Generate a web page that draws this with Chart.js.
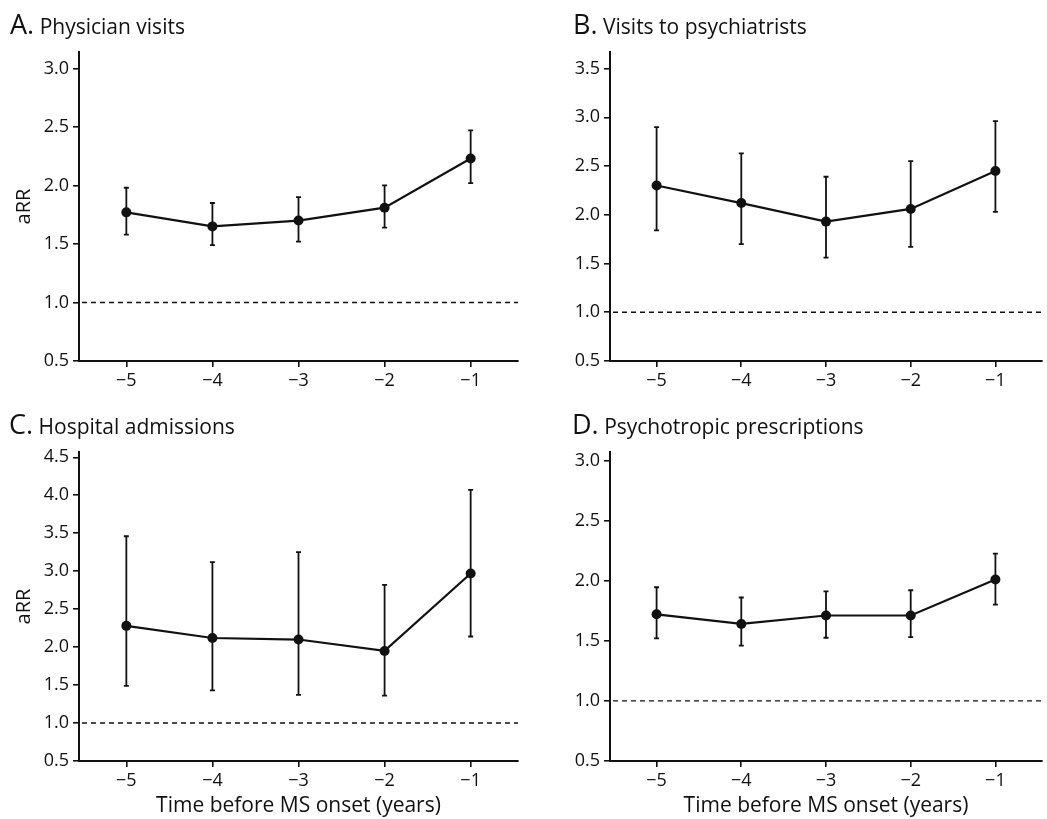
<!DOCTYPE html>
<html>
<head>
<meta charset="utf-8">
<script src="https://cdn.jsdelivr.net/npm/chart.js@4.4.1/dist/chart.umd.min.js"></script>
<style>
  body { margin: 0; background: #fff; font-family: 'Open Sans', sans-serif; }
  #wrap { position: relative; width: 1047px; height: 819px; overflow: hidden; }
  .panel { position: absolute; }
  .title { position: absolute; font-size: 21px; line-height: 30px; color: #111; white-space: nowrap; }
  .title b { font-weight: normal; font-size: 27px; }
</style>
</head>
<body>
<div id="wrap">
  <div class="panel" style="left:0;top:0;width:523px;height:400px"><canvas id="chartA"></canvas></div>
  <div class="panel" style="left:523px;top:0;width:524px;height:400px"><canvas id="chartB"></canvas></div>
  <div class="panel" style="left:0;top:400px;width:523px;height:419px"><canvas id="chartC"></canvas></div>
  <div class="panel" style="left:523px;top:400px;width:524px;height:419px"><canvas id="chartD"></canvas></div>
  <div class="title" style="left:10px;top:9px"><b>A.</b> Physician visits</div>
  <div class="title" style="left:573px;top:9px"><b>B.</b> Visits to psychiatrists</div>
  <div class="title" style="left:9px;top:409px"><b>C.</b> Hospital admissions</div>
  <div class="title" style="left:572px;top:409px"><b>D.</b> Psychotropic prescriptions</div>
</div>
<script>
'use strict';
// years before onset
const years = [-5, -4, -3, -2, -1];
const xTicks = [-5, -4, -3, -2, -1];

// A. Physician visits
const physicianRR = [1.77, 1.65, 1.70, 1.81, 2.23];
const physicianLo = [1.58, 1.49, 1.52, 1.64, 2.02];
const physicianHi = [1.98, 1.85, 1.90, 2.00, 2.47];

// B. Visits to psychiatrists
const psychRR = [2.30, 2.12, 1.93, 2.06, 2.45];
const psychLo = [1.84, 1.70, 1.56, 1.67, 2.03];
const psychHi = [2.90, 2.63, 2.39, 2.55, 2.96];

// C. Hospital admissions
const hospRR = [2.28, 2.12, 2.10, 1.95, 2.97];
const hospLo = [1.49, 1.43, 1.37, 1.36, 2.14];
const hospHi = [3.46, 3.12, 3.25, 2.82, 4.07];

// D. Psychotropic prescriptions
const drugRR = [1.72, 1.64, 1.71, 1.71, 2.01];
const drugLo = [1.52, 1.46, 1.525, 1.53, 1.80];
const drugHi = [1.945, 1.86, 1.91, 1.92, 2.225];

const ticksA = [0.5, 1.0, 1.5, 2.0, 2.5, 3.0];
const ticksB = [0.5, 1.0, 1.5, 2.0, 2.5, 3.0, 3.5];
const ticksC = [0.5, 1.0, 1.5, 2.0, 2.5, 3.0, 3.5, 4.0, 4.5];
const ticksD = [0.5, 1.0, 1.5, 2.0, 2.5, 3.0];
const refLine = 1.0;

const ink = '#111';

const errorBars = {
  id: 'errorBars',
  beforeDatasetsDraw(chart, args, opts) {
    const ctx = chart.ctx;
    const x = chart.scales.x;
    const y = chart.scales.y;
    const area = chart.chartArea;
    ctx.save();
    // reference line
    ctx.strokeStyle = ink;
    ctx.lineWidth = 1.4;
    ctx.setLineDash([5, 4]);
    const yr = y.getPixelForValue(refLine);
    ctx.beginPath();
    ctx.moveTo(area.left + 3, yr);
    ctx.lineTo(area.right, yr);
    ctx.stroke();
    ctx.setLineDash([]);
    // whiskers
    ctx.lineWidth = 1.8;
    for (let i = 0; i < opts.lo.length; i++) {
      const px = x.getPixelForValue(years[i]);
      const top = y.getPixelForValue(opts.hi[i]);
      const bot = y.getPixelForValue(opts.lo[i]);
      ctx.beginPath();
      ctx.moveTo(px, top);
      ctx.lineTo(px, bot);
      ctx.moveTo(px - 2.5, top);
      ctx.lineTo(px + 2.5, top);
      ctx.moveTo(px - 2.5, bot);
      ctx.lineTo(px + 2.5, bot);
      ctx.stroke();
    }
    ctx.restore();
  }
};

function makeChart(id, rr, lo, hi, yTicks, yMax, opt) {
  const ctx = document.getElementById(id).getContext('2d');
  return new Chart(ctx, {
    type: 'line',
    data: {
      datasets: [{
        data: years.map((v, i) => ({x: v, y: rr[i]})),
        borderColor: ink,
        borderWidth: 2.2,
        backgroundColor: ink,
        pointRadius: 5,
        pointBackgroundColor: ink,
        pointBorderWidth: 0,
        tension: 0
      }]
    },
    options: {
      responsive: true,
      maintainAspectRatio: false,
      animation: false,
      layout: {padding: {top: 52, right: opt.right, left: 0, bottom: 0}},
      plugins: {
        legend: {display: false},
        tooltip: {enabled: false},
        errorBars: {lo: lo, hi: hi}
      },
      scales: {
        x: {
          type: 'linear',
          min: -5.55,
          max: -0.45,
          afterBuildTicks: s => { s.ticks = xTicks.map(v => ({value: v})); },
          afterFit: s => { s.height = opt.xh; },
          grid: {drawOnChartArea: false, drawTicks: true, tickLength: 6, color: ink, lineWidth: 1.6},
          border: {display: true, color: ink, width: 2},
          ticks: {
            color: ink,
            font: {family: 'Open Sans', size: 18},
            padding: 3,
            maxRotation: 0,
            callback: v => '\u2212' + Math.abs(v)
          },
          title: {
            display: opt.xTitle,
            text: 'Time before MS onset (years)',
            color: ink,
            font: {family: 'Open Sans', size: 21},
            padding: {top: 0, bottom: 0}
          }
        },
        y: {
          type: 'linear',
          min: 0.5,
          max: yMax,
          afterBuildTicks: s => { s.ticks = yTicks.map(v => ({value: v})); },
          afterFit: s => { s.width = opt.yw; },
          grid: {drawOnChartArea: false, drawTicks: true, tickLength: 6, color: ink, lineWidth: 1.6},
          border: {display: true, color: ink, width: 2},
          ticks: {
            color: ink,
            font: {family: 'Open Sans', size: 18},
            padding: 4,
            callback: v => v.toFixed(1)
          },
          title: {
            display: opt.yTitle,
            text: 'aRR',
            color: ink,
            font: {family: 'Open Sans', size: 20},
            padding: {top: 12, bottom: 4}
          }
        }
      }
    },
    plugins: [errorBars]
  });
}

makeChart('chartA', physicianRR, physicianLo, physicianHi, ticksA, 3.14,
  {yw: 79, xh: 39, right: 0, xTitle: false, yTitle: true});
makeChart('chartB', psychRR, psychLo, psychHi, ticksB, 3.67,
  {yw: 87, xh: 39, right: 1, xTitle: false, yTitle: false});
makeChart('chartC', hospRR, hospLo, hospHi, ticksC, 4.57,
  {yw: 79, xh: 58, right: 0, xTitle: true, yTitle: true});
makeChart('chartD', drugRR, drugLo, drugHi, ticksD, 3.07,
  {yw: 87, xh: 58, right: 1, xTitle: true, yTitle: false});
</script>
</body>
</html>
